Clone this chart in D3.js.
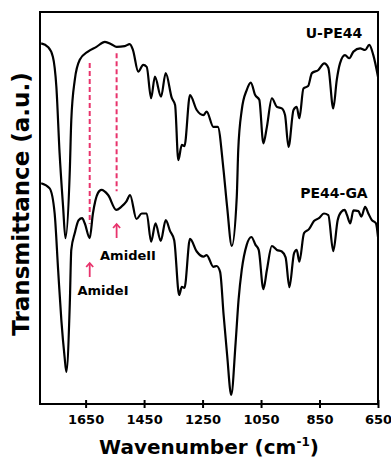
<!DOCTYPE html>
<html>
<head>
<meta charset="utf-8">
<script src="https://cdn.jsdelivr.net/npm/d3@7"></script>
<style>
  body { margin: 0; background: #fff; }
  text { font-family: "DejaVu Sans", sans-serif; font-weight: bold; }
</style>
</head>
<body>
<div id="chart"></div>
<script>
// wavenumber (cm-1), transmittance (a.u.)
const upe44 = [
  [1802, 92.0], [1779, 91.1], [1762, 88.6], [1750, 80.9], [1739, 64.0], [1727, 50.3],
  [1719, 42.3], [1704, 59.7], [1699, 72.4], [1687, 82.7], [1670, 87.8], [1642, 89.9],
  [1613, 91.1], [1584, 92.4], [1562, 91.8], [1544, 91.1], [1516, 91.3], [1499, 91.8],
  [1488, 90.3], [1470, 84.8], [1453, 86.5], [1441, 86.0], [1426, 78.0], [1413, 83.5],
  [1392, 78.4], [1376, 84.4], [1355, 78.0], [1344, 76.3], [1333, 62.2], [1321, 66.1],
  [1312, 65.8], [1293, 78.8], [1270, 75.0], [1247, 73.7], [1236, 74.6], [1213, 70.7],
  [1198, 70.7], [1179, 60.2], [1166, 50.3], [1150, 40.3], [1133, 52.9], [1128, 64.8],
  [1116, 75.0], [1099, 80.1], [1085, 82.0], [1070, 78.8], [1056, 77.6], [1042, 66.5],
  [1030, 70.7], [1013, 78.0], [996, 75.8], [979, 75.4], [968, 73.7], [956, 65.6],
  [939, 75.0], [928, 75.8], [919, 72.9], [905, 80.5], [889, 81.1], [876, 84.4],
  [854, 85.2], [834, 86.9], [820, 85.8], [803, 75.4], [791, 82.7], [780, 86.9],
  [763, 89.0], [748, 88.2], [734, 89.9], [711, 90.7], [694, 90.3], [680, 91.6],
  [666, 89.0], [650, 83.5]
];

const pe44ga = [
  [1802, 56.3], [1773, 55.0], [1756, 48.7], [1744, 34.2], [1733, 21.4], [1722, 12.1],
  [1716, 8.2], [1704, 25.8], [1699, 39.3], [1687, 43.6], [1674, 46.9], [1662, 47.4],
  [1653, 46.1], [1636, 42.3], [1625, 48.6], [1608, 53.8], [1596, 54.6], [1573, 53.3],
  [1545, 49.5], [1528, 50.3], [1511, 51.6], [1498, 53.3], [1476, 47.2], [1458, 48.6],
  [1441, 48.6], [1426, 41.4], [1411, 46.1], [1393, 41.6], [1376, 46.9], [1361, 44.1],
  [1347, 41.8], [1330, 27.8], [1321, 29.9], [1312, 29.6], [1293, 42.1], [1270, 38.9],
  [1247, 37.6], [1236, 38.0], [1213, 35.0], [1202, 35.2], [1190, 33.7], [1178, 22.7],
  [1166, 12.5], [1152, 2.3], [1137, 15.6], [1127, 26.5], [1116, 34.2], [1099, 40.6],
  [1083, 42.6], [1069, 40.6], [1058, 39.3], [1042, 29.3], [1030, 34.2], [1013, 40.3],
  [996, 39.3], [979, 38.9], [966, 37.4], [953, 29.8], [937, 38.5], [928, 39.3],
  [919, 36.3], [903, 43.6], [886, 44.6], [869, 46.7], [852, 47.4], [835, 48.6],
  [820, 48.2], [803, 39.0], [788, 46.9], [776, 49.0], [764, 49.5], [756, 48.2],
  [745, 46.1], [734, 49.4], [717, 49.2], [707, 47.8], [694, 50.3], [683, 48.6],
  [671, 46.9], [657, 46.1], [650, 42.6]
];

const xTicks = [1650, 1450, 1250, 1050, 850, 650];

// amide bands: position, dashed line top and bottom, arrow and label
const amideNames = ["AmideI", "AmideII"];
const amideWn = [1636, 1544];
const amideDashTop = [87.0, 89.5];
const amideDashBottom = [46.0, 54.3];

const width = 391, height = 460;
const margin = {top: 12, right: 13, bottom: 56, left: 40};

const x = d3.scaleLinear([1806, 650], [margin.left, width - margin.right]);
const y = d3.scaleLinear([0, 100], [height - margin.bottom, margin.top]);

const svg = d3.select("#chart")
  .append("svg")
  .attr("width", width)
  .attr("height", height)
  .attr("viewBox", [0, 0, width, height]);

const line = d3.line()
  .x(d => x(d[0]))
  .y(d => y(d[1]))
  .curve(d3.curveMonotoneX);

// dashed guides
svg.append("g")
  .selectAll("line")
  .data(amideWn)
  .join("line")
  .attr("x1", d => x(d))
  .attr("x2", d => x(d))
  .attr("y1", (d, i) => y(amideDashTop[i]))
  .attr("y2", (d, i) => y(amideDashBottom[i]))
  .attr("stroke", "#e8336c")
  .attr("stroke-width", 2)
  .attr("stroke-dasharray", "5,3");

svg.append("g")
  .selectAll("path")
  .data([upe44, pe44ga])
  .join("path")
  .attr("fill", "none")
  .attr("stroke", "#000")
  .attr("stroke-width", 2.2)
  .attr("stroke-linejoin", "round")
  .attr("d", line);

// frame
svg.append("rect")
  .attr("x", margin.left)
  .attr("y", margin.top)
  .attr("width", width - margin.left - margin.right)
  .attr("height", height - margin.top - margin.bottom)
  .attr("fill", "none")
  .attr("stroke", "#000")
  .attr("stroke-width", 2);

const xAxis = svg.append("g")
  .attr("transform", `translate(0,${height - margin.bottom})`)
  .call(d3.axisBottom(x).tickValues(xTicks).tickSize(4).tickPadding(7).tickFormat(d3.format("d")));
xAxis.select(".domain").remove();
xAxis.selectAll(".tick line").attr("stroke-width", 2);
xAxis.selectAll(".tick").append("line")
  .attr("y2", -4).attr("stroke", "#000").attr("stroke-width", 2);
xAxis.selectAll(".tick text")
  .attr("font-family", "DejaVu Sans")
  .attr("font-weight", "bold")
  .attr("font-size", 13)
  .attr("fill", "#000");

// axis titles
const xt = svg.append("text")
  .attr("x", 209)
  .attr("y", 454)
  .attr("text-anchor", "middle")
  .attr("font-size", 20)
  .attr("fill", "#000");
xt.append("tspan").text("Wavenumber (cm");
xt.append("tspan").attr("font-size", 12).attr("dy", -8).text("-1");
xt.append("tspan").attr("dy", 8).text(")");

svg.append("text")
  .attr("transform", "translate(29,204) rotate(-90)")
  .attr("text-anchor", "middle")
  .attr("font-size", 23)
  .attr("fill", "#000")
  .text("Transmittance (a.u.)");

// series labels
svg.append("text")
  .attr("x", 334).attr("y", 38)
  .attr("text-anchor", "middle")
  .attr("font-size", 14)
  .text("U-PE44");
svg.append("text")
  .attr("x", 334).attr("y", 198)
  .attr("text-anchor", "middle")
  .attr("font-size", 14)
  .text("PE44-GA");

// arrows + amide labels
const arrowTop = [263, 224];
const labelY = [295, 260];
const labelX = [103, 128];
amideWn.forEach((wn, i) => {
  const ax = x(wn);
  const g = svg.append("g").attr("stroke", "#e8336c").attr("stroke-width", 1.8).attr("fill", "none");
  g.append("line").attr("x1", ax).attr("x2", ax).attr("y1", arrowTop[i] + 14).attr("y2", arrowTop[i]);
  g.append("path").attr("d", `M${ax - 3.5},${arrowTop[i] + 4}L${ax},${arrowTop[i]}L${ax + 3.5},${arrowTop[i] + 4}`);
  svg.append("text")
    .attr("x", labelX[i]).attr("y", labelY[i])
    .attr("text-anchor", "middle")
    .attr("font-size", 13)
    .text(amideNames[i]);
});
</script>
</body>
</html>
